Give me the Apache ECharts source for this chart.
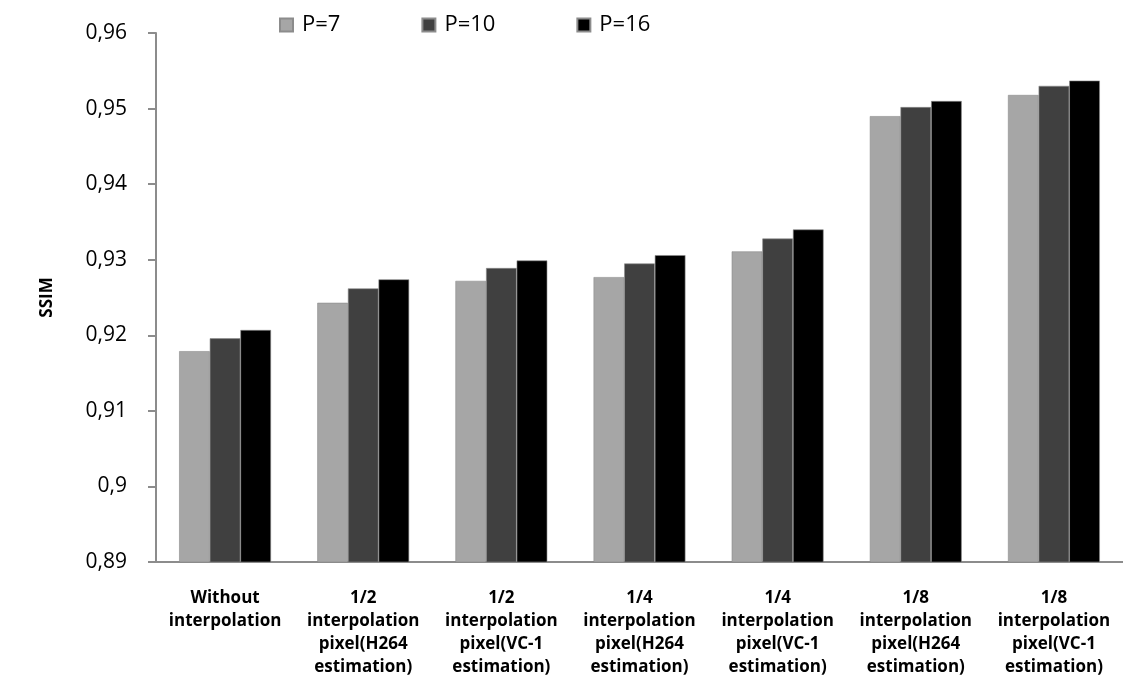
<!DOCTYPE html>
<html>
<head>
<meta charset="utf-8">
<script src="https://cdn.jsdelivr.net/npm/echarts@6/dist/echarts.min.js"></script>
<style>
  html, body { margin: 0; padding: 0; background: #fff; overflow: hidden; }
  #chart { width: 1123px; height: 686px; }
</style>
</head>
<body>
<div id="chart"></div>
<script>
// Interpolation methods on the x axis
const categories = [
  'Without\ninterpolation',
  '1/2\ninterpolation\npixel(H264\nestimation)',
  '1/2\ninterpolation\npixel(VC-1\nestimation)',
  '1/4\ninterpolation\npixel(H264\nestimation)',
  '1/4\ninterpolation\npixel(VC-1\nestimation)',
  '1/8\ninterpolation\npixel(H264\nestimation)',
  '1/8\ninterpolation\npixel(VC-1\nestimation)'
];

// SSIM per search parameter P
const ssimP7  = [0.9179, 0.9243, 0.9272, 0.9277, 0.9311, 0.9490, 0.9518];
const ssimP10 = [0.9196, 0.9262, 0.9289, 0.9295, 0.9328, 0.9502, 0.9530];
const ssimP16 = [0.9207, 0.9274, 0.9299, 0.9306, 0.9340, 0.9510, 0.9537];

const seriesNames = ['P=7', 'P=10', 'P=16'];
const seriesColors = ['#a6a6a6', '#404040', '#000000'];

const font = '"Open Sans", Carlito, Lato, sans-serif';

const chart = echarts.init(document.getElementById('chart'));

const makeSeries = (name, data, color) => ({
  name: name,
  type: 'bar',
  data: data,
  barGap: '0%',
  barCategoryGap: '33.5%',
  itemStyle: { color: color, borderColor: '#8c8c8c', borderWidth: 0.6 },
  emphasis: { disabled: true }
});

chart.setOption({
  animation: false,
  backgroundColor: '#ffffff',
  textStyle: { fontFamily: font },
  legend: {
    top: 9,
    left: 274,
    itemWidth: 13,
    itemHeight: 13,
    itemGap: 81,
    icon: 'rect',
    textStyle: { fontSize: 22, color: '#000', fontFamily: font, padding: [0, 0, 0, 4] },
    data: seriesNames
  },
  // the category axis runs a little past the right edge of the page
  grid: { left: 156, width: 976, top: 33, bottom: 124, containLabel: false },
  xAxis: {
    type: 'category',
    data: categories,
    axisLine: { lineStyle: { color: '#8c8c8c', width: 2 } },
    axisTick: { show: false },
    axisLabel: {
      interval: 0,
      margin: 25,
      fontSize: 17,
      fontWeight: 'bold',
      color: '#000',
      lineHeight: 23,
      fontFamily: font
    }
  },
  yAxis: {
    type: 'value',
    min: 0.89,
    max: 0.96,
    interval: 0.01,
    name: 'SSIM',
    nameLocation: 'middle',
    nameGap: 100,
    nameRotate: 90,
    nameTextStyle: { fontSize: 17, fontWeight: 'bold', color: '#000', fontFamily: font },
    axisLine: { show: true, lineStyle: { color: '#8c8c8c', width: 2 } },
    axisTick: { show: true, inside: false, length: 8, lineStyle: { color: '#8c8c8c', width: 2 } },
    splitLine: { show: false },
    axisLabel: {
      fontSize: 21,
      color: '#000',
      margin: 29,
      fontFamily: font,
      formatter: v => String(parseFloat(v.toFixed(2))).replace('.', ',')
    }
  },
  series: [
    makeSeries(seriesNames[0], ssimP7, seriesColors[0]),
    makeSeries(seriesNames[1], ssimP10, seriesColors[1]),
    makeSeries(seriesNames[2], ssimP16, seriesColors[2])
  ]
});
</script>
</body>
</html>
